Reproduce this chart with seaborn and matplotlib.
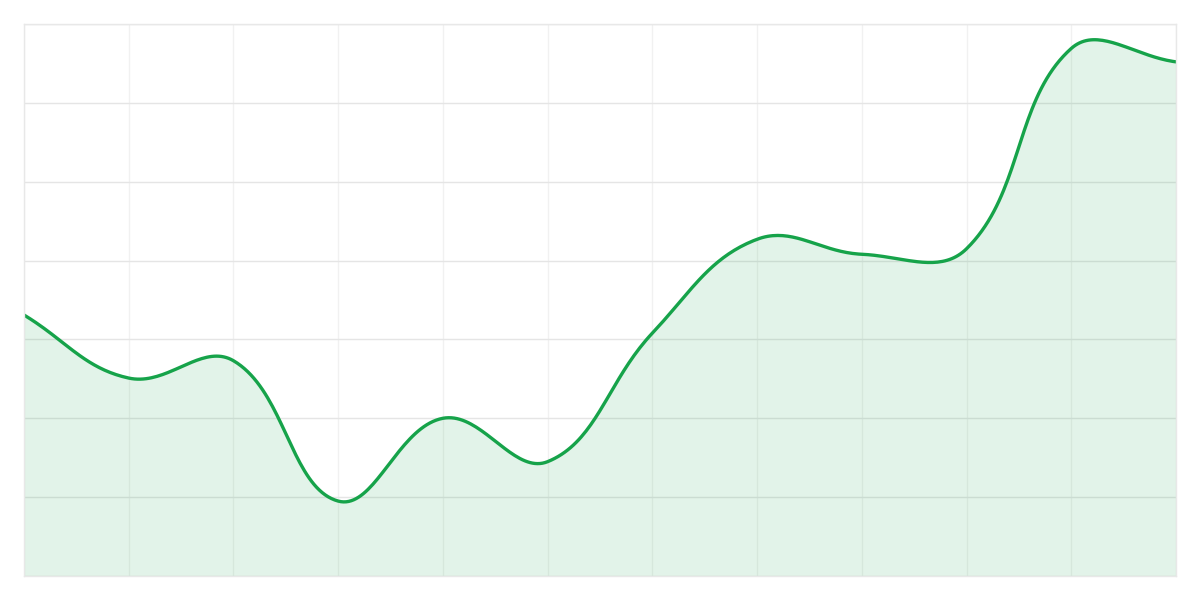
import numpy as np
import pandas as pd
import seaborn as sns
import matplotlib.pyplot as plt

sns.set_theme(style="white")

# values, one per vertical grid line
steps = list(range(12))
values = [33.1, 25.1, 27.3, 9.5, 20.0, 14.5, 30.8, 42.7, 40.8, 41.5, 66.9, 65.2]

line_color = "#16a34a"


def smooth(xs, ys, tension=0.4, n=40, sx=104.7, sy=552 / 70):
    # chart.js-style bezier spline through the points (distances in pixel units)
    px = np.array(xs, float) * sx
    py = np.array(ys, float) * sy
    m = len(px)
    cp_in, cp_out = [], []
    for i in range(m):
        p0 = (px[max(i - 1, 0)], py[max(i - 1, 0)])
        p1 = (px[i], py[i])
        p2 = (px[min(i + 1, m - 1)], py[min(i + 1, m - 1)])
        d01 = np.hypot(p1[0] - p0[0], p1[1] - p0[1])
        d12 = np.hypot(p2[0] - p1[0], p2[1] - p1[1])
        s01 = d01 / (d01 + d12) if d01 + d12 else 0
        s12 = d12 / (d01 + d12) if d01 + d12 else 0
        fa, fb = tension * s01, tension * s12
        cp_in.append((p1[0] - fa * (p2[0] - p0[0]), p1[1] - fa * (p2[1] - p0[1])))
        cp_out.append((p1[0] + fb * (p2[0] - p0[0]), p1[1] + fb * (p2[1] - p0[1])))
    out_x, out_y = [], []
    t = np.linspace(0, 1, n, endpoint=False)
    for i in range(m - 1):
        a = np.array([px[i], py[i]])
        b = np.array(cp_out[i])
        c = np.array(cp_in[i + 1])
        d = np.array([px[i + 1], py[i + 1]])
        pts = ((1 - t) ** 3)[:, None] * a + (3 * (1 - t) ** 2 * t)[:, None] * b \
            + (3 * (1 - t) * t ** 2)[:, None] * c + (t ** 3)[:, None] * d
        out_x.extend(pts[:, 0])
        out_y.extend(pts[:, 1])
    out_x.append(px[-1])
    out_y.append(py[-1])
    return np.array(out_x) / sx, np.array(out_y) / sy


sx, sy = smooth(steps, values)
df = pd.DataFrame({"x": sx, "y": sy})

fig = plt.figure(figsize=(12, 6), dpi=100)
ax = fig.add_axes([0.02, 0.04, 0.96, 0.92])

ax.set_xlim(0, 11)
ax.set_ylim(0, 70)
ax.set_xticks(steps)
ax.set_yticks(range(0, 71, 10))
ax.grid(True, axis="y", color="#e5e5e5", linewidth=1)
ax.grid(True, axis="x", color="#f1f1f1", linewidth=1)
ax.set_axisbelow(True)

ax.fill_between(df["x"], df["y"], 0, color=line_color, alpha=0.12, linewidth=0)
sns.lineplot(data=df, x="x", y="y", ax=ax, color=line_color, linewidth=2.4, sort=False)

ax.tick_params(length=0, labelbottom=False, labelleft=False)
ax.set_xlabel("")
ax.set_ylabel("")
for s in ax.spines.values():
    s.set_color("#e8e8e8")
    s.set_linewidth(1)

fig.savefig("out.png", dpi=100)
